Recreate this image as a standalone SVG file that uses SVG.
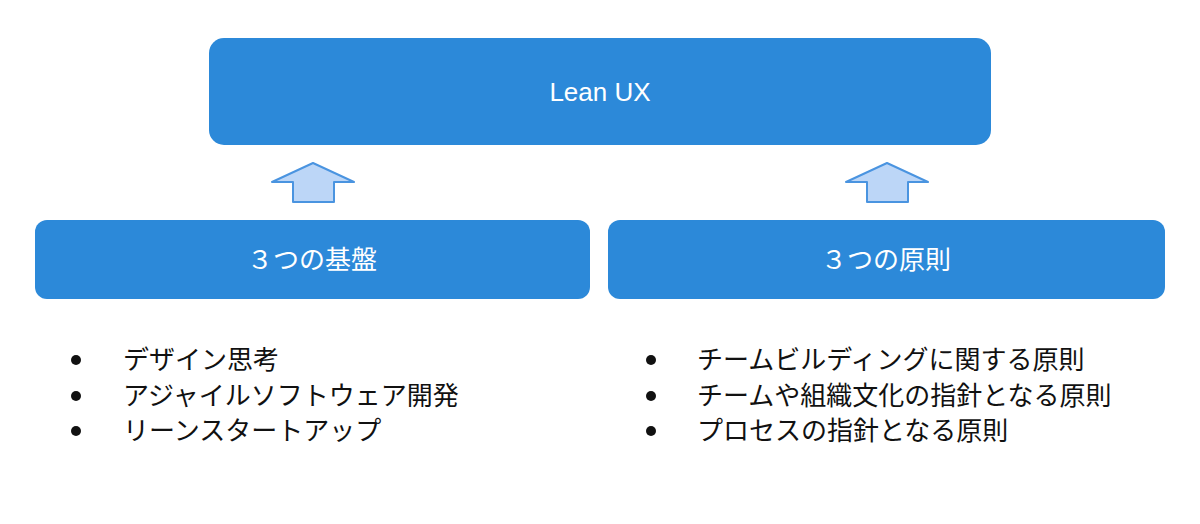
<svg xmlns="http://www.w3.org/2000/svg" width="1200" height="524" viewBox="0 0 1200 524">
<style>
.box{fill:#2c89d9}
.t{font-family:"Helvetica","Liberation Sans","Noto Sans CJK JP",sans-serif;fill:#fff;font-size:26px;text-anchor:middle}
.l{font-family:"Liberation Sans","Noto Sans CJK JP",sans-serif;fill:#111;font-size:26px}
.ar{fill:#bcd6f7;stroke:#4a94e0;stroke-width:2;stroke-linejoin:round}
</style>
<rect width="1200" height="524" fill="#fff"/>
<g id="lean"><rect class="box" x="209" y="38" width="782" height="107" rx="15"/><text class="t" x="600" y="101">Lean UX</text></g>
<g id="kiban"><rect class="box" x="35" y="220" width="555" height="79" rx="12"/><text class="t" x="312" y="269">３つの基盤</text></g>
<g id="gensoku"><rect class="box" x="608" y="220" width="557" height="79" rx="12"/><text class="t" x="886" y="269">３つの原則</text></g>
<g id="connectors">
<polygon class="ar" points="313,163 354,182 334,182 334,202 293,202 293,182 272,182"/>
<polygon class="ar" points="887,163 928,182 908,182 908,202 867,202 867,182 846,182"/>
</g>
<g id="list1" class="l">
<circle cx="76" cy="360" r="5" fill="#111"/><text x="123" y="369">デザイン思考</text>
<circle cx="76" cy="396" r="5" fill="#111"/><text x="123" y="405">アジャイルソフトウェア開発</text>
<circle cx="76" cy="431" r="5" fill="#111"/><text x="123" y="440">リーンスタートアップ</text>
</g>
<g id="list2" class="l">
<circle cx="651" cy="360" r="5" fill="#111"/><text x="697" y="369">チームビルディングに関する原則</text>
<circle cx="651" cy="396" r="5" fill="#111"/><text x="697" y="405">チームや組織文化の指針となる原則</text>
<circle cx="651" cy="431" r="5" fill="#111"/><text x="697" y="440">プロセスの指針となる原則</text>
</g>
</svg>
